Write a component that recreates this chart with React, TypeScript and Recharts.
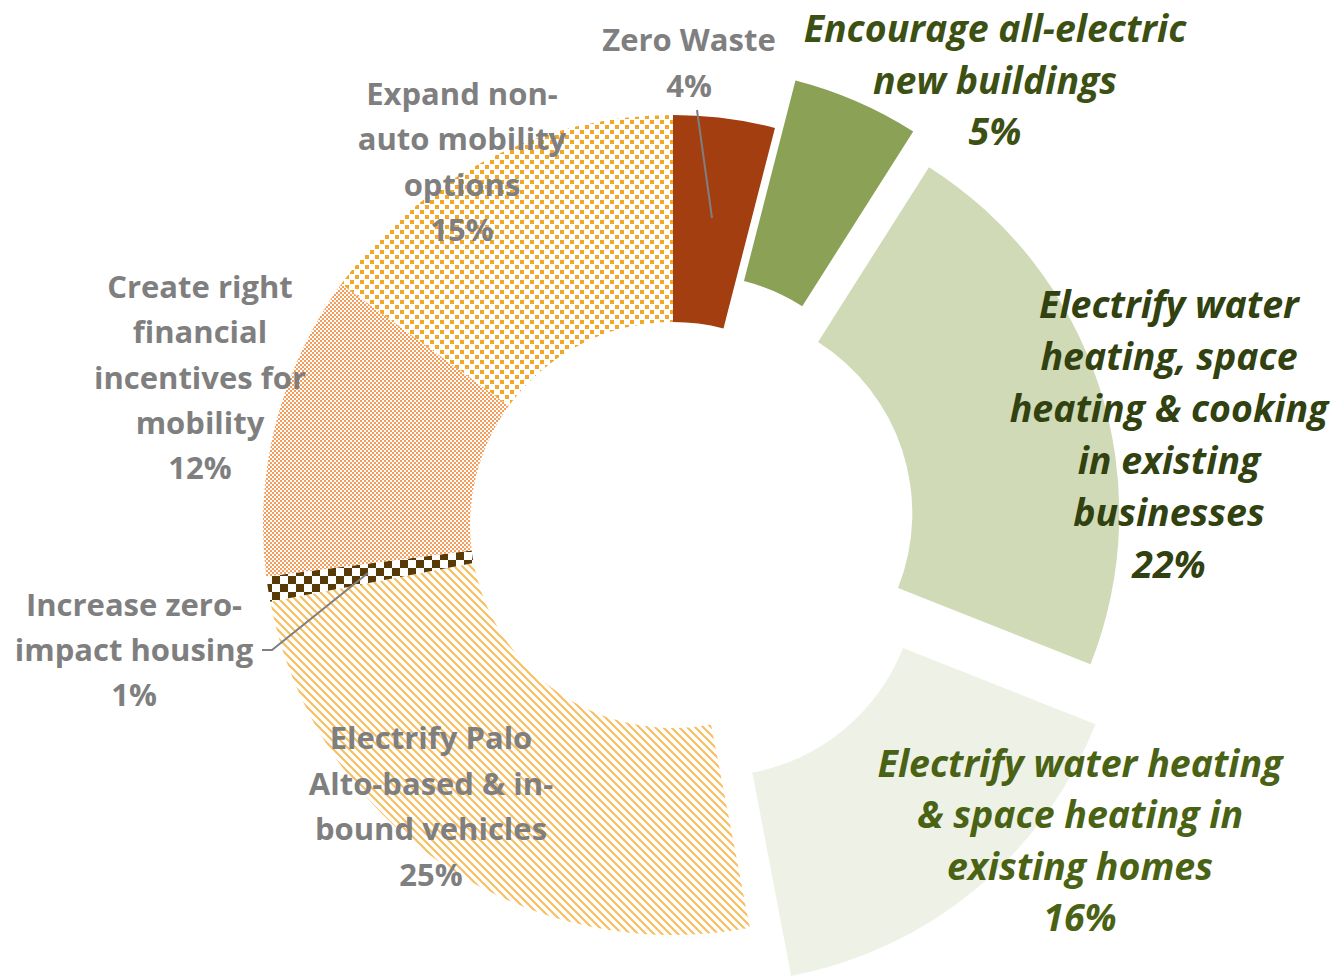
import { Cell, Pie, PieChart } from "recharts";

const categories = [
  "Zero Waste",
  "Encourage all-electric new buildings",
  "Electrify water heating, space heating & cooking in existing businesses",
  "Electrify water heating & space heating in existing homes",
  "Electrify Palo Alto-based & in-bound vehicles",
  "Increase zero-impact housing",
  "Create right financial incentives for mobility",
  "Expand non-auto mobility options",
];
const shares = [4, 5, 22, 16, 25, 1, 12, 15];
const labelLines = [
  ["Zero Waste"],
  ["Encourage all-electric", "new buildings"],
  ["Electrify water", "heating, space", "heating & cooking", "in existing", "businesses"],
  ["Electrify water heating", "& space heating in", "existing homes"],
  ["Electrify Palo", "Alto-based & in-", "bound vehicles"],
  ["Increase zero-", "impact housing"],
  ["Create right", "financial", "incentives for", "mobility"],
  ["Expand non-", "auto mobility", "options"],
];

const data = categories.map((name, i) => ({ name, value: shares[i] }));

const fills = [
  "#A23E10",
  "#8BA155",
  "#D0DAB6",
  "#EEF2E6",
  "url(#pVehicles)",
  "url(#pHousing)",
  "url(#pFinancial)",
  "url(#pExpand)",
];

// which pie each slice sits in: 0 = main, others are pulled out
const groupOf = [0, 1, 2, 3, 0, 0, 0, 0];
const CX = 673;
const CY = 525;
const groups = [
  { cx: CX, cy: CY },
  { cx: CX + 20.5, cy: CY - 47.4 },
  { cx: CX + 36.3, cy: CY - 11.7 },
  { cx: CX + 41.3, cy: CY + 48.3 },
];

const labelLayout = [
  { dx: 16, dy: -486, gap: 45.5, color: "#7F7F7F", italic: false },
  { dx: 322, dy: -498, gap: 51.5, color: "#3D5013", italic: true },
  { dx: 496, dy: -222, gap: 52, color: "#314110", italic: true },
  { dx: 407, dy: 237, gap: 51.3, color: "#4A6214", italic: true },
  { dx: -242, dy: 212, gap: 45.7, color: "#7F7F7F", italic: false },
  { dx: -539, dy: 79, gap: 45, color: "#7F7F7F", italic: false },
  { dx: -473, dy: -239, gap: 45.25, color: "#7F7F7F", italic: false },
  { dx: -211, dy: -432, gap: 45.3, color: "#7F7F7F", italic: false },
];

const renderLabel = (props: any) => {
  const { cx, cy, index, value } = props;
  const lay = labelLayout[index];
  const lines = [...labelLines[index], `${value}%`];
  const x = cx + lay.dx;
  const y0 = cy + lay.dy;
  return (
    <g key={`lbl-${index}`}>
      {index === 0 && (
        <line x1={cx + 24} y1={cy - 415} x2={cx + 39} y2={cy - 307} stroke="#7F7F7F" strokeWidth={2} />
      )}
      {index === 5 && (
        <polyline
          points={`${cx - 411},${cy + 125} ${cx - 401},${cy + 125} ${cx - 305},${cy + 48}`}
          fill="none"
          stroke="#7F7F7F"
          strokeWidth={2}
        />
      )}
      <text
        x={x}
        y={y0}
        textAnchor="middle"
        dominantBaseline="central"
        fill={lay.color}
        fontFamily="'Open Sans', Lato, sans-serif"
        fontWeight={700}
        fontStyle={lay.italic ? "italic" : "normal"}
        fontSize={lay.italic ? 37.5 : 31}
      >
        {lines.map((t, i) => (
          <tspan key={i} x={x} y={y0 + i * lay.gap}>
            {t}
          </tspan>
        ))}
      </text>
    </g>
  );
};

export default function App() {
  return (
    <div style={{ position: "absolute", left: 0, top: 0, background: "#fff" }}>
      <PieChart width={1336} height={976} margin={{ top: 0, right: 0, bottom: 0, left: 0 }}>
        <defs>
          <pattern id="pExpand" width="10" height="10" patternUnits="userSpaceOnUse">
            <rect width="10" height="10" fill="#fff" />
            <rect x="0" y="0" width="4" height="4" fill="#F5A623" />
            <rect x="5" y="5" width="4" height="4" fill="#F5A623" />
          </pattern>
          <pattern id="pFinancial" width="4" height="4" patternUnits="userSpaceOnUse">
            <rect width="4" height="4" fill="#fff" />
            <rect x="0" y="0" width="2" height="2" fill="#F69D5C" />
            <rect x="2" y="2" width="2" height="2" fill="#F69D5C" />
          </pattern>
          <pattern id="pHousing" width="16" height="16" patternUnits="userSpaceOnUse">
            <rect width="16" height="16" fill="#fff" />
            <rect x="0" y="0" width="8" height="8" fill="#583A06" />
            <rect x="8" y="8" width="8" height="8" fill="#583A06" />
          </pattern>
          <pattern id="pVehicles" width="8" height="8" patternUnits="userSpaceOnUse">
            <rect width="8" height="8" fill="#fff" />
            <path d="M-1,-1 L9,9 M-1,7 L1,9 M7,-1 L9,1" stroke="#F8BE5C" strokeWidth={2} />
          </pattern>
        </defs>
        {groups.slice(1).map((g, gi) => (
          <Pie
            key={`g${gi + 1}`}
            data={data}
            dataKey="value"
            nameKey="name"
            cx={g.cx}
            cy={g.cy}
            innerRadius={203}
            outerRadius={410}
            startAngle={90}
            endAngle={-270}
            stroke="none"
            isAnimationActive={false}
          >
            {data.map((d, i) => (
              <Cell key={d.name} fill={groupOf[i] === gi + 1 ? fills[i] : "none"} />
            ))}
          </Pie>
        ))}
        <Pie
          data={data}
          dataKey="value"
          nameKey="name"
          cx={groups[0].cx}
          cy={groups[0].cy}
          innerRadius={203}
          outerRadius={410}
          startAngle={90}
          endAngle={-270}
          stroke="none"
          label={renderLabel}
          labelLine={false}
          isAnimationActive={false}
        >
          {data.map((d, i) => (
            <Cell key={d.name} fill={groupOf[i] === 0 ? fills[i] : "none"} />
          ))}
        </Pie>
      </PieChart>
    </div>
  );
}
